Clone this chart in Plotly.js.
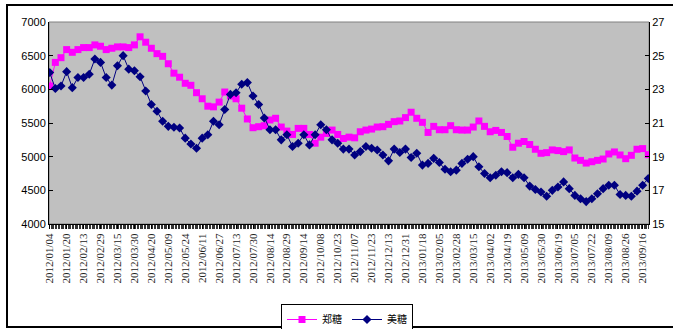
<!DOCTYPE html>
<html>
<head>
<meta charset="utf-8">
<script src="https://cdn.plot.ly/plotly-3.0.1.min.js"></script>
<style>
  html, body { margin: 0; padding: 0; background: #ffffff; }
  #chart { width: 673px; height: 329px; }
</style>
</head>
<body>
<div id="chart"></div>
<script>
// Date labels shown on the category axis, one every 12 trading days
const dateLabels = [
  "2012/01/04", "2012/01/20", "2012/02/13", "2012/02/29", "2012/03/15", "2012/03/30",
  "2012/04/20", "2012/05/09", "2012/05/24", "2012/06/11", "2012/06/27", "2012/07/13",
  "2012/07/30", "2012/08/14", "2012/08/29", "2012/09/14", "2012/10/08", "2012/10/23",
  "2012/11/07", "2012/11/23", "2012/12/13", "2012/12/31", "2013/01/18", "2013/02/05",
  "2013/02/28", "2013/03/15", "2013/04/02", "2013/04/19", "2013/05/09", "2013/05/30",
  "2013/06/19", "2013/07/05", "2013/07/22", "2013/08/09", "2013/08/26", "2013/09/16"
];
const labelStep = 12;     // trading days between labelled ticks
const totalDays = 425;    // trading days on the axis
const sampleStep = 4;     // trading days between the plotted observations

// Zhengzhou sugar futures (yuan/ton), left axis
const zhengTang = [
  6050, 6400, 6470, 6590, 6550, 6590, 6620, 6620, 6660, 6640,
  6590, 6610, 6630, 6630, 6620, 6660, 6780, 6700, 6610, 6530,
  6490, 6380, 6240, 6180, 6090, 6060, 5950, 5860, 5750, 5740,
  5810, 5960, 5900, 5860, 5720, 5560, 5430, 5445, 5460, 5545,
  5570, 5440, 5380, 5330, 5420, 5420, 5330, 5200, 5290, 5345,
  5395, 5330, 5270, 5290, 5280, 5370, 5395, 5410, 5440, 5445,
  5480, 5520, 5530, 5580, 5660, 5570, 5510, 5360, 5450, 5400,
  5400, 5460, 5400, 5395, 5395, 5440, 5530, 5450, 5370, 5390,
  5360, 5300, 5140, 5200, 5225, 5180, 5110, 5050, 5060, 5100,
  5090, 5075, 5100, 4980, 4945, 4905, 4925, 4945, 4965, 5040,
  5070, 5025, 4970, 5020, 5110, 5120, 5030
];

// ICE raw sugar futures (US cents/lb), right axis
const meiTang = [
  24.0, 23.05, 23.2, 24.05, 23.1, 23.7, 23.7, 23.9, 24.8, 24.6,
  23.7, 23.25, 24.4, 25.0, 24.2, 24.1, 23.75, 22.9, 22.1, 21.7,
  21.1, 20.8, 20.75, 20.7, 20.1, 19.75, 19.5, 20.1, 20.3, 21.1,
  20.9, 21.8, 22.7, 22.8, 23.3, 23.4, 22.6, 22.1, 21.3, 20.6,
  20.6, 20.0, 20.3, 19.6, 19.8, 20.3, 19.7, 20.3, 20.9, 20.6,
  20.0, 19.8, 19.45, 19.45, 19.1, 19.3, 19.6, 19.5, 19.4, 19.1,
  18.75, 19.45, 19.25, 19.45, 18.95, 19.2, 18.5, 18.6, 18.9, 18.65,
  18.25, 18.1, 18.2, 18.6, 18.85, 19.0, 18.4, 18.0, 17.75, 17.9,
  18.1, 18.05, 17.75, 17.95, 17.75, 17.25, 17.05, 16.9, 16.65, 17.0,
  17.2, 17.5, 17.1, 16.7, 16.5, 16.33, 16.5, 16.8, 17.1, 17.3,
  17.3, 16.75, 16.7, 16.65, 16.95, 17.3, 17.7
];

const dayIndex = (arr) => arr.map((_, i) => i * sampleStep);
const tickPositions = dateLabels.map((_, i) => i * labelStep);

const traces = [
  {
    name: "郑糖",
    x: dayIndex(zhengTang),
    y: zhengTang,
    type: "scatter",
    mode: "lines+markers",
    line: { color: "#FF00FF", width: 1 },
    marker: { symbol: "square", size: 7, color: "#FF00FF" },
    yaxis: "y"
  },
  {
    name: "美糖",
    x: dayIndex(meiTang),
    y: meiTang,
    type: "scatter",
    mode: "lines+markers",
    line: { color: "#000080", width: 1 },
    marker: { symbol: "diamond", size: 7, color: "#000080" },
    yaxis: "y2"
  }
];

// plot area in pixels: left 49, right 649, top 22, bottom 224
const W = 673, H = 329, L = 49, R = 649, T = 22, B = 224;
const px = (x) => (x - L) / (R - L);
const py = (y) => (B - y) / (B - T);

const layout = {
  width: W,
  height: H,
  margin: { l: L, r: W - R, t: T, b: H - B, pad: 0, autoexpand: false },
  paper_bgcolor: "#ffffff",
  plot_bgcolor: "#C0C0C0",
  showlegend: true,
  font: { family: "Liberation Sans, Arial, sans-serif", size: 11, color: "#000000" },
  xaxis: {
    range: [-0.5, totalDays - 0.5],
    tickmode: "array",
    tickvals: tickPositions,
    ticktext: dateLabels,
    tickangle: -90,
    tickfont: { family: "Liberation Serif, serif", size: 11, color: "#222222" },
    ticks: "outside",
    ticklen: 4,
    tickcolor: "#000000",
    tickwidth: 1,
    minor: { dtick: 1, tick0: 0, ticks: "outside", ticklen: 4, tickcolor: "#333333", tickwidth: 1, showgrid: false },
    showgrid: false,
    zeroline: false,
    showline: true,
    linecolor: "#000000",
    linewidth: 1,
    automargin: false,
    fixedrange: true
  },
  yaxis: {
    range: [4000, 7000],
    dtick: 500,
    tick0: 4000,
    ticks: "inside",
    ticklen: 4,
    tickcolor: "#000000",
    showgrid: false,
    zeroline: false,
    showline: true,
    linecolor: "#000000",
    linewidth: 1,
    automargin: false,
    tickfont: { family: "Liberation Sans, Arial, sans-serif", size: 11, color: "#000000" },
    fixedrange: true
  },
  yaxis2: {
    range: [15, 27],
    dtick: 2,
    tick0: 15,
    overlaying: "y",
    side: "right",
    ticks: "inside",
    ticklen: 4,
    tickcolor: "#000000",
    showgrid: false,
    zeroline: false,
    showline: true,
    linecolor: "#000000",
    linewidth: 1,
    automargin: false,
    tickfont: { family: "Liberation Sans, Arial, sans-serif", size: 11, color: "#000000" },
    fixedrange: true
  },
  legend: {
    orientation: "h",
    xref: "container",
    yref: "container",
    x: 281 / W,
    y: 1 - 304 / H,
    xanchor: "left",
    yanchor: "top",
    bgcolor: "#ffffff",
    bordercolor: "#000000",
    borderwidth: 1,
    itemwidth: 30,
    tracegroupgap: 0,
    font: { family: "Noto Sans CJK SC, sans-serif", size: 10, color: "#000000" }
  },
  shapes: [
    // plot-area border
    {
      type: "rect", xref: "paper", yref: "paper",
      x0: 0, x1: 1, y0: 0, y1: 1,
      line: { color: "#808080", width: 1 },
      layer: "below"
    },
    // outer chart frame
    {
      type: "path", xref: "paper", yref: "paper",
      path: "M " + px(673) + " " + py(5) + " L " + px(7) + " " + py(5) +
            " L " + px(7) + " " + py(327) + " L " + px(673) + " " + py(327),
      line: { color: "#000000", width: 2 }
    }
  ]
};

Plotly.newPlot("chart", traces, layout, { displayModeBar: false, staticPlot: true });
</script>
</body>
</html>
